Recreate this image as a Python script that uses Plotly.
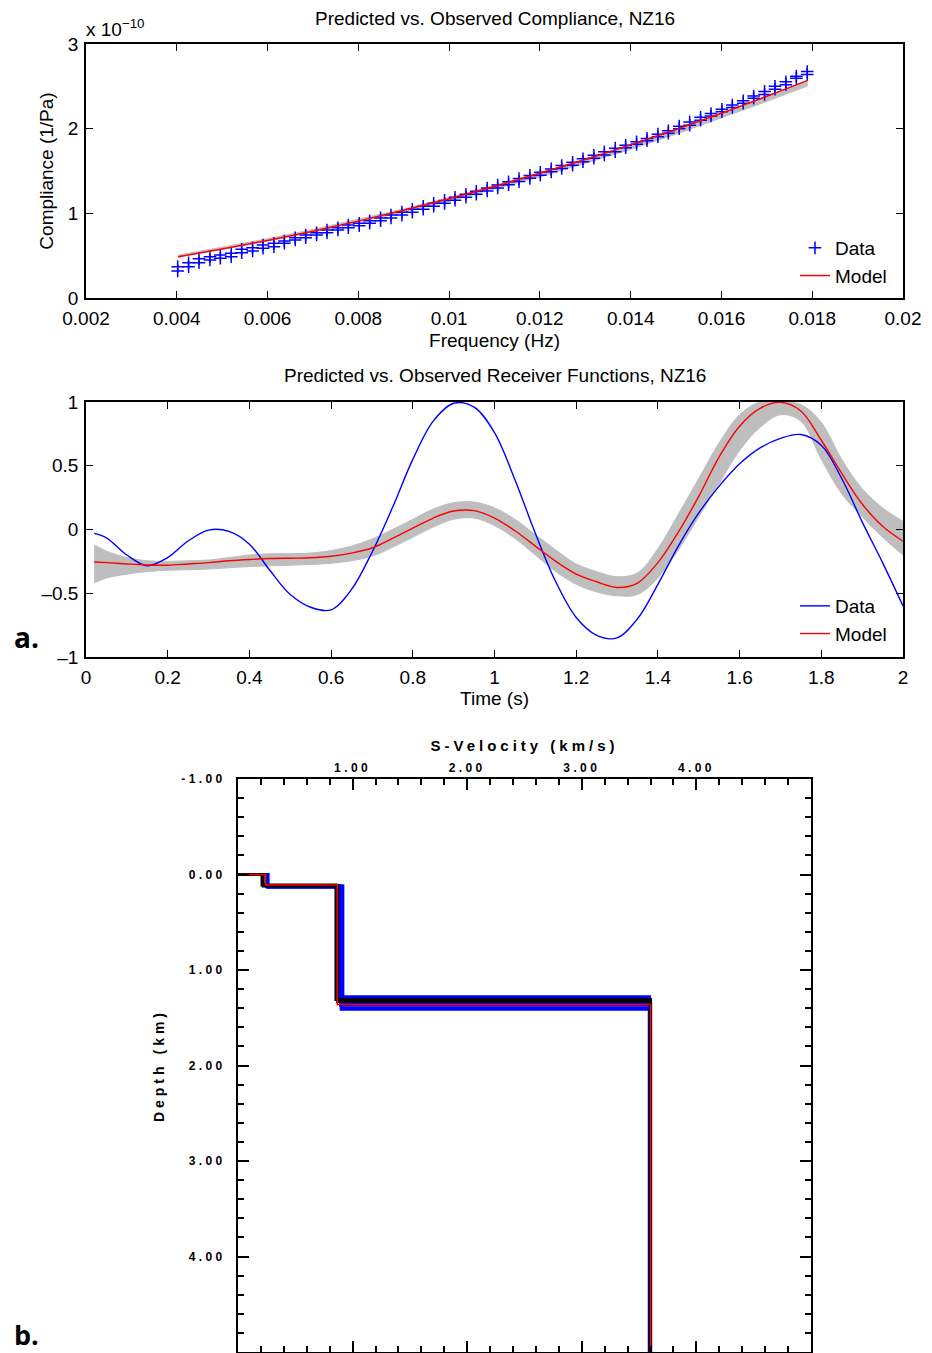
import plotly.graph_objects as go

# ---------------- Panel a (top): compliance ----------------
freq = [0.00402, 0.00426, 0.00449, 0.00473, 0.00496, 0.00520, 0.00543, 0.00567, 0.00590, 0.00614,
        0.00637, 0.00661, 0.00684, 0.00708, 0.00731, 0.00755, 0.00778, 0.00802, 0.00825, 0.00849,
        0.00872, 0.00896, 0.00919, 0.00943, 0.00966, 0.00990, 0.01013, 0.01037, 0.01060, 0.01084,
        0.01107, 0.01131, 0.01154, 0.01178, 0.01201, 0.01225, 0.01248, 0.01272, 0.01295, 0.01319,
        0.01342, 0.01366, 0.01389, 0.01413, 0.01436, 0.01460, 0.01483, 0.01507, 0.01530, 0.01554,
        0.01577, 0.01601, 0.01624, 0.01648, 0.01671, 0.01695, 0.01718, 0.01742, 0.01765, 0.01789]
# observed compliance (units of 1e-10 1/Pa), two estimates per frequency
comp_obs_a = [0.37, 0.417, 0.464, 0.488, 0.508, 0.528, 0.575, 0.594, 0.626, 0.646,
              0.673, 0.712, 0.744, 0.771, 0.803, 0.83, 0.862, 0.882, 0.913, 0.946,
              0.98, 1.014, 1.048, 1.083, 1.118, 1.153, 1.189, 1.225, 1.261, 1.298,
              1.335, 1.372, 1.41, 1.448, 1.486, 1.525, 1.564, 1.604, 1.644, 1.685,
              1.727, 1.77, 1.805, 1.845, 1.885, 1.935, 1.975, 2.03, 2.08, 2.135,
              2.18, 2.23, 2.28, 2.33, 2.385, 2.44, 2.5, 2.555, 2.62, 2.675]
comp_obs_b = [0.32, 0.37, 0.417, 0.449, 0.469, 0.488, 0.535, 0.555, 0.587, 0.606,
              0.646, 0.685, 0.712, 0.744, 0.771, 0.803, 0.83, 0.854, 0.882, 0.912,
              0.945, 0.979, 1.013, 1.048, 1.083, 1.118, 1.154, 1.19, 1.226, 1.263,
              1.30, 1.337, 1.375, 1.413, 1.451, 1.49, 1.529, 1.569, 1.609, 1.65,
              1.69, 1.728, 1.775, 1.815, 1.858, 1.905, 1.945, 2.0, 2.04, 2.10,
              2.15, 2.20, 2.25, 2.30, 2.36, 2.405, 2.465, 2.52, 2.595, 2.64]
model_freq = [0.00403, 0.005, 0.006, 0.007, 0.008, 0.009, 0.010, 0.011, 0.012, 0.013,
              0.014, 0.015, 0.016, 0.017, 0.0179]
comp_model = [0.488, 0.579, 0.680, 0.789, 0.908, 1.036, 1.172, 1.318, 1.473, 1.636,
              1.809, 1.991, 2.182, 2.382, 2.570]
comp_ens_hi = [0.505, 0.598, 0.700, 0.810, 0.928, 1.052, 1.185, 1.328, 1.480, 1.640,
               1.812, 1.993, 2.183, 2.383, 2.570]
comp_ens_lo = [0.482, 0.572, 0.672, 0.778, 0.893, 1.015, 1.145, 1.285, 1.432, 1.590,
               1.757, 1.935, 2.125, 2.322, 2.505]
freq_ticks = [0.002, 0.004, 0.006, 0.008, 0.01, 0.012, 0.014, 0.016, 0.018, 0.02]
freq_ticktext = ["0.002", "0.004", "0.006", "0.008", "0.01", "0.012", "0.014", "0.016", "0.018", "0.02"]
comp_ticks = [0, 1, 2, 3]
comp_ticktext = ["0", "1", "2", "3"]

# ---------------- Panel a (middle): receiver functions ----------------
rf_time = [0.02, 0.05, 0.1, 0.15, 0.2, 0.25, 0.3, 0.35, 0.4, 0.45,
           0.5, 0.55, 0.6, 0.65, 0.7, 0.75, 0.8, 0.85, 0.9, 0.95,
           1.0, 1.05, 1.1, 1.15, 1.2, 1.25, 1.3, 1.35, 1.4, 1.45,
           1.5, 1.55, 1.6, 1.65, 1.7, 1.75, 1.8, 1.85, 1.9, 1.95, 2.0]
rf_data = [-0.03, -0.065, -0.2, -0.285, -0.22, -0.09, -0.005, -0.015, -0.115, -0.32,
           -0.51, -0.61, -0.63, -0.47, -0.18, 0.17, 0.55, 0.85, 0.99, 0.96,
           0.76, 0.39, -0.03, -0.41, -0.69, -0.83, -0.85, -0.70, -0.43, -0.13,
           0.13, 0.34, 0.515, 0.64, 0.715, 0.745, 0.66, 0.40, 0.06, -0.26, -0.60]
rf_model = [-0.255, -0.26, -0.27, -0.278, -0.28, -0.27, -0.26, -0.245, -0.235, -0.228,
            -0.225, -0.222, -0.21, -0.185, -0.145, -0.07, 0.01, 0.09, 0.145, 0.148,
            0.09, -0.01, -0.13, -0.25, -0.35, -0.41, -0.455, -0.42, -0.26, -0.02,
            0.26, 0.57, 0.81, 0.95, 0.997, 0.93, 0.70, 0.44, 0.2, 0.025, -0.092]
rf_ens_hi = [-0.12, -0.17, -0.22, -0.245, -0.25, -0.245, -0.24, -0.22, -0.2, -0.19,
             -0.19, -0.185, -0.165, -0.13, -0.075, 0.0, 0.08, 0.16, 0.21, 0.215,
             0.17, 0.08, -0.04, -0.16, -0.27, -0.33, -0.37, -0.34, -0.15, 0.12,
             0.40, 0.68, 0.90, 1.0, 1.0, 0.98, 0.84, 0.55, 0.32, 0.17, 0.065]
rf_ens_lo = [-0.42, -0.38, -0.35, -0.33, -0.32, -0.315, -0.31, -0.30, -0.29, -0.285,
             -0.28, -0.275, -0.265, -0.245, -0.21, -0.14, -0.06, 0.02, 0.08, 0.09,
             0.03, -0.07, -0.2, -0.33, -0.43, -0.49, -0.52, -0.51, -0.38, -0.16,
             0.1, 0.36, 0.62, 0.80, 0.90, 0.85, 0.55, 0.28, 0.1, -0.06, -0.2]
time_ticks = [0, 0.2, 0.4, 0.6, 0.8, 1.0, 1.2, 1.4, 1.6, 1.8, 2.0]
time_ticktext = ["0", "0.2", "0.4", "0.6", "0.8", "1", "1.2", "1.4", "1.6", "1.8", "2"]
rf_ticks = [-1, -0.5, 0, 0.5, 1]
rf_ticktext = ["\u20131", "\u20130.5", "0", "0.5", "1"]

# ---------------- Panel b: S-velocity profiles ----------------
depth_max = 5.0
ens_v1 = [0.25, 0.26, 0.25, 0.26, 0.25, 0.26]
ens_z1 = [0.12, 0.13, 0.12, 0.13, 0.12, 0.13]
ens_v2 = [0.885, 0.90, 0.915, 0.895, 0.91, 0.90]
ens_z2 = [1.28, 1.31, 1.34, 1.37, 1.40, 1.41]
ens_v3 = [3.59, 3.60, 3.59, 3.60, 3.59, 3.60]
blk_v1 = [0.21, 0.22]
blk_z1 = [0.11, 0.12]
blk_v2 = [0.855, 0.87]
blk_z2 = [1.31, 1.33]
blk_v3 = [3.60, 3.595]
best_v1 = 0.24
best_z1 = 0.11
best_v2 = 0.866
best_z2 = 1.36
best_v3 = 3.60
vel_ticks = [1, 2, 3, 4]
vel_ticktext = ["1.00", "2.00", "3.00", "4.00"]
dep_ticks = [-1, 0, 1, 2, 3, 4]
dep_ticktext = ["-1.00", "0.00", "1.00", "2.00", "3.00", "4.00"]

# ---------------- figure ----------------
W, H = 932, 1353
FONT = "Liberation Sans, Arial, Helvetica, sans-serif"
GRAY = "rgb(190,190,190)"


def fx(p):
    return p / W


def fy(p):
    return 1 - p / H


def step_profile(v1, z1, v2, z2, v3):
    return [0, v1, v1, v2, v2, v3, v3], [0, 0, z1, z1, z2, z2, depth_max]


fig = go.Figure()

# top panel
fig.add_trace(go.Scatter(x=model_freq, y=comp_ens_lo, mode="lines", line=dict(color=GRAY, width=1),
                         xaxis="x", yaxis="y", showlegend=False, hoverinfo="skip"))
fig.add_trace(go.Scatter(x=model_freq, y=comp_ens_hi, mode="lines", line=dict(color=GRAY, width=1),
                         fill="tonexty", fillcolor=GRAY, xaxis="x", yaxis="y", showlegend=False,
                         hoverinfo="skip"))
fig.add_trace(go.Scatter(x=freq, y=comp_obs_a, mode="markers", name="Data",
                         marker=dict(symbol="cross-thin", size=9, color="blue",
                                     line=dict(color="blue", width=1.5)),
                         xaxis="x", yaxis="y", legend="legend"))
fig.add_trace(go.Scatter(x=freq, y=comp_obs_b, mode="markers", name="Data", showlegend=False,
                         marker=dict(symbol="cross-thin", size=9, color="blue",
                                     line=dict(color="blue", width=1.5)),
                         xaxis="x", yaxis="y"))
fig.add_trace(go.Scatter(x=model_freq, y=comp_model, mode="lines", name="Model",
                         line=dict(color="red", width=1.5, shape="spline"),
                         xaxis="x", yaxis="y", legend="legend"))

# middle panel
fig.add_trace(go.Scatter(x=rf_time, y=rf_ens_lo, mode="lines",
                         line=dict(color=GRAY, width=1, shape="spline"),
                         xaxis="x2", yaxis="y2", showlegend=False, hoverinfo="skip"))
fig.add_trace(go.Scatter(x=rf_time, y=rf_ens_hi, mode="lines",
                         line=dict(color=GRAY, width=1, shape="spline"),
                         fill="tonexty", fillcolor=GRAY,
                         xaxis="x2", yaxis="y2", showlegend=False, hoverinfo="skip"))
fig.add_trace(go.Scatter(x=rf_time, y=rf_data, mode="lines", name="Data",
                         line=dict(color="blue", width=1.4, shape="spline"),
                         xaxis="x2", yaxis="y2", legend="legend2"))
fig.add_trace(go.Scatter(x=rf_time, y=rf_model, mode="lines", name="Model",
                         line=dict(color="red", width=1.4, shape="spline"),
                         xaxis="x2", yaxis="y2", legend="legend2"))

# bottom panel
for i in range(len(ens_v1)):
    vx, zy = step_profile(ens_v1[i], ens_z1[i], ens_v2[i], ens_z2[i], ens_v3[i])
    fig.add_trace(go.Scatter(x=vx, y=zy, mode="lines", line=dict(color="blue", width=3),
                             xaxis="x3", yaxis="y3", showlegend=False, hoverinfo="skip"))
for i in range(len(blk_v1)):
    vx, zy = step_profile(blk_v1[i], blk_z1[i], blk_v2[i], blk_z2[i], blk_v3[i])
    fig.add_trace(go.Scatter(x=vx, y=zy, mode="lines", line=dict(color="black", width=3),
                             xaxis="x3", yaxis="y3", showlegend=False, hoverinfo="skip"))
vx, zy = step_profile(best_v1, best_z1, best_v2, best_z2, best_v3)
fig.add_trace(go.Scatter(x=vx, y=zy, mode="lines", line=dict(color="red", width=1.5),
                         xaxis="x3", yaxis="y3", showlegend=False, hoverinfo="skip"))

axis_common = dict(showline=True, linecolor="black", linewidth=1.5, mirror="ticks",
                   ticks="inside", ticklen=7, tickwidth=1, tickcolor="black",
                   showgrid=False, zeroline=False, automargin=False,
                   tickfont=dict(family=FONT, size=19, color="black"))

fig.update_layout(
    width=W, height=H,
    margin=dict(l=0, r=0, t=0, b=0, autoexpand=False),
    paper_bgcolor="white", plot_bgcolor="white",
    font=dict(family=FONT, color="black"),
    xaxis=dict(domain=[fx(86), fx(903)], anchor="y", range=[0.002, 0.02],
               tickmode="array", tickvals=freq_ticks, ticktext=freq_ticktext,
               ticklabelstandoff=2,
               title=dict(text="Frequency (Hz)", font=dict(family=FONT, size=19), standoff=6),
               **axis_common),
    yaxis=dict(domain=[fy(298), fy(44)], anchor="x", range=[0, 3],
               tickmode="array", tickvals=comp_ticks, ticktext=comp_ticktext,
               ticklabelstandoff=2,
               title=dict(text="Compliance (1/Pa)", font=dict(family=FONT, size=19), standoff=9),
               **axis_common),
    xaxis2=dict(domain=[fx(86), fx(903)], anchor="y2", range=[0, 2],
                tickmode="array", tickvals=time_ticks, ticktext=time_ticktext,
                ticklabelstandoff=2,
                title=dict(text="Time (s)", font=dict(family=FONT, size=19), standoff=3),
                **axis_common),
    yaxis2=dict(domain=[fy(657), fy(402)], anchor="x2", range=[-1, 1],
                tickmode="array", tickvals=rf_ticks, ticktext=rf_ticktext,
                ticklabelstandoff=2,
                **axis_common),
    xaxis3=dict(domain=[fx(238), fx(811)], anchor="y3", range=[0, 5], side="top",
                showline=True, linecolor="black", linewidth=2, mirror="allticks",
                ticks="inside", ticklen=11, tickwidth=1.5, tickcolor="black",
                tickmode="array", tickvals=vel_ticks, ticktext=vel_ticktext,
                minor=dict(tickmode="linear", tick0=0, dtick=0.2, ticks="inside",
                           ticklen=6, tickwidth=1.5, tickcolor="black"),
                showgrid=False, zeroline=False, automargin=False,
                tickfont=dict(family=FONT, size=12, color="black", weight="bold"),
                title=dict(text="S-Velocity (km/s)", standoff=6,
                           font=dict(family=FONT, size=15, color="black", weight="bold"))),
    yaxis3=dict(domain=[fy(1352), fy(779)], anchor="x3", range=[5, -1],
                showline=True, linecolor="black", linewidth=2, mirror="allticks",
                ticks="inside", ticklen=11, tickwidth=1.5, tickcolor="black",
                tickmode="array", tickvals=dep_ticks, ticktext=dep_ticktext,
                ticklabelstandoff=8,
                minor=dict(tickmode="linear", tick0=0, dtick=0.2, ticks="inside",
                           ticklen=6, tickwidth=1.5, tickcolor="black"),
                showgrid=False, zeroline=False, automargin=False,
                tickfont=dict(family=FONT, size=12, color="black", weight="bold"),
                title=dict(text="Depth (km)", standoff=30,
                           font=dict(family=FONT, size=14, color="black", weight="bold"))),
    legend=dict(x=fx(795), y=fy(229), xanchor="left", yanchor="top", traceorder="normal",
                bgcolor="rgba(0,0,0,0)", font=dict(family=FONT, size=19, color="black"),
                tracegroupgap=0),
    legend2=dict(x=fx(795), y=fy(587), xanchor="left", yanchor="top", traceorder="normal",
                 bgcolor="rgba(0,0,0,0)", font=dict(family=FONT, size=19, color="black"),
                 tracegroupgap=0),
    annotations=[
        dict(text="Predicted vs. Observed Compliance, NZ16", x=fx(495), y=fy(19),
             xref="paper", yref="paper", showarrow=False, xanchor="center", yanchor="middle",
             font=dict(family=FONT, size=19)),
        dict(text="x 10<sup>\u221210</sup>", x=fx(84), y=fy(28),
             xref="paper", yref="paper", showarrow=False, xanchor="left", yanchor="middle",
             font=dict(family=FONT, size=19)),
        dict(text="Predicted vs. Observed Receiver Functions, NZ16", x=fx(495), y=fy(376),
             xref="paper", yref="paper", showarrow=False, xanchor="center", yanchor="middle",
             font=dict(family=FONT, size=19)),
        dict(text="a.", x=fx(12), y=fy(637), xref="paper", yref="paper", showarrow=False,
             xanchor="left", yanchor="middle",
             font=dict(family="Open Sans, sans-serif", size=28, weight="bold")),
        dict(text="b.", x=fx(12), y=fy(1334), xref="paper", yref="paper", showarrow=False,
             xanchor="left", yanchor="middle",
             font=dict(family="Open Sans, sans-serif", size=27, weight="bold")),
    ],
)

post_js = """
document.body.style.margin = '0';
document.body.style.padding = '0';
var gd = document.getElementById('{plot_id}');
function spaceOut(){
  gd.querySelectorAll('g.x3tick text, g.y3tick text').forEach(function(t){ t.setAttribute('letter-spacing', '3.4px'); });
  gd.querySelectorAll('text.x3title, text.y3title').forEach(function(t){ t.setAttribute('letter-spacing', '4px'); });
}
spaceOut();
gd.on('plotly_afterplot', spaceOut);
"""

fig.write_html("out.html", post_script=post_js, config={"displayModeBar": False})
